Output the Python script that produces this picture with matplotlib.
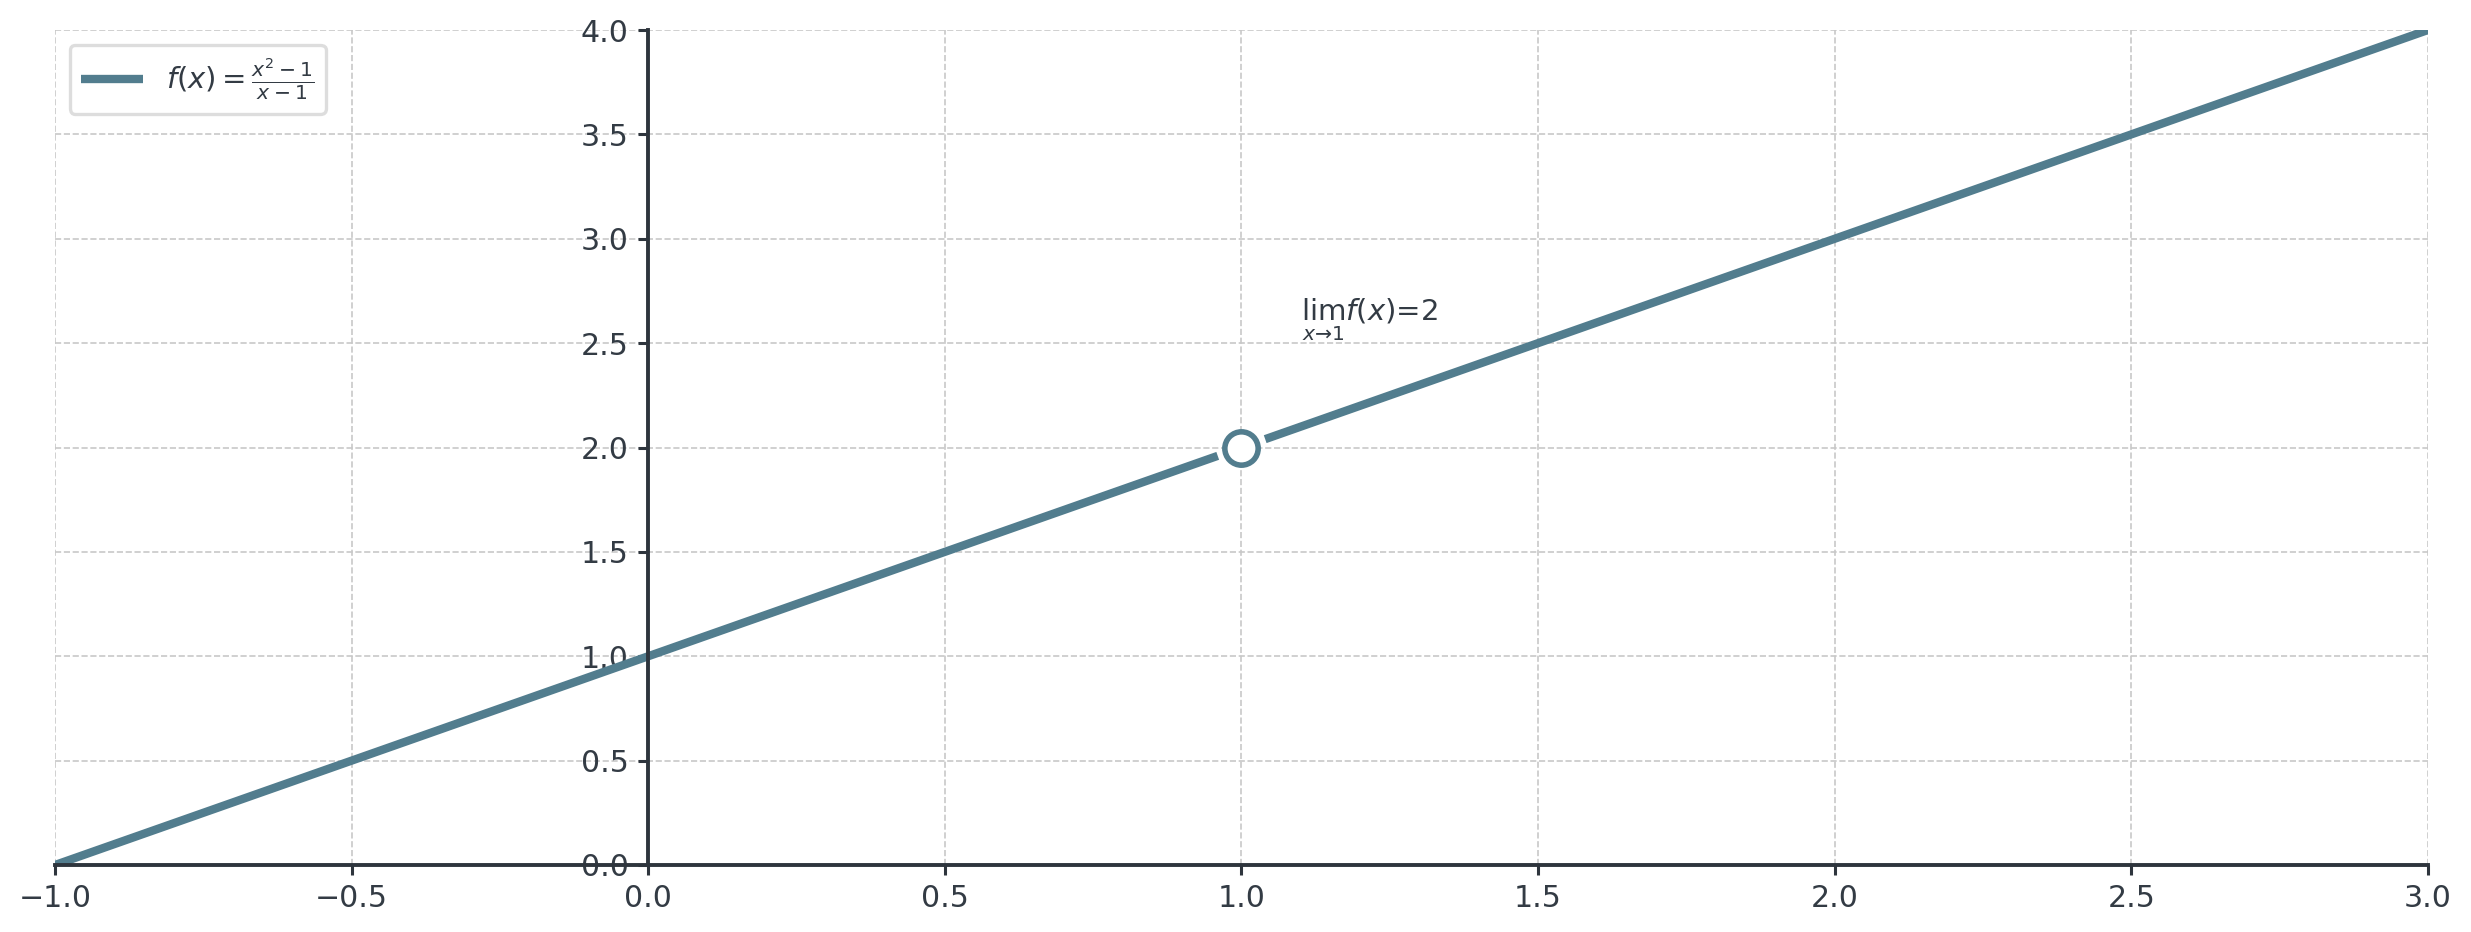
import matplotlib
matplotlib.use("Agg")
import matplotlib.pyplot as plt

# Data: f(x) = (x^2 - 1)/(x - 1), with a removable discontinuity at x = 1
x_left = [-1.0, 0.96]
y_left = [0.0, 1.96]
x_right = [1.04, 3.0]
y_right = [2.04, 4.0]
hole_x = [1.0]
hole_y = [2.0]
x_ticks = [-1.0, -0.5, 0.0, 0.5, 1.0, 1.5, 2.0, 2.5, 3.0]
y_ticks = [0.0, 0.5, 1.0, 1.5, 2.0, 2.5, 3.0, 3.5, 4.0]
limit_label = r"$\lim_{x \to 1} f(x) = 2$"
legend_label = r"$f(x) = \frac{x^2 - 1}{x - 1}$"

LINE = "#527d8e"
TEXT = "#333b44"
SPINE = "#2e353d"

plt.rcParams["font.family"] = "DejaVu Sans"
plt.rcParams["mathtext.fontset"] = "dejavusans"

fig = plt.figure(figsize=(12.355, 4.66), dpi=200)
ax = fig.add_axes([0.02226, 0.07189, 0.9603, 0.8959])

ax.plot(x_left, y_left, color=LINE, lw=3.0, solid_capstyle="butt",
        label=legend_label, zorder=2)
ax.plot(x_right, y_right, color=LINE, lw=3.0, solid_capstyle="butt", zorder=2)
ax.plot(hole_x, hole_y, "o", ms=12, mfc="white", mec=LINE, mew=2.0, zorder=3)

ax.text(1.1, 2.5, limit_label, fontsize=10.5, color=TEXT, va="bottom", ha="left")

ax.set_xlim(-1, 3)
ax.set_ylim(0, 4)
ax.set_xticks(x_ticks)
ax.set_yticks(y_ticks)

ax.spines["left"].set_position(("data", 0))
ax.spines["bottom"].set_position(("data", 0))
ax.spines["right"].set_visible(False)
ax.spines["top"].set_visible(False)
for s in ("left", "bottom"):
    ax.spines[s].set_color(SPINE)
    ax.spines[s].set_linewidth(1.4)

ax.tick_params(axis="both", colors=SPINE, labelcolor=TEXT, labelsize=10.8,
               length=3.5, width=1.1)
ax.grid(True, linestyle="--", linewidth=0.6, color="#c8c8c8")
ax.set_axisbelow(True)

leg = ax.legend(loc="upper left", fontsize=10.5, frameon=True, fancybox=True,
                borderpad=0.4, handlelength=2.1)
leg.get_frame().set_edgecolor("#d5d5d5")
leg.get_frame().set_linewidth(1.2)
for t in leg.get_texts():
    t.set_color(TEXT)

fig.savefig("out.png", dpi=200)
